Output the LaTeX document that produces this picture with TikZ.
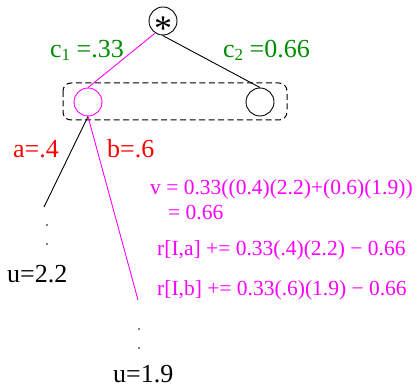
\documentclass[tikz,border=0pt]{standalone}
\usepackage{fontspec}
\setmainfont{Liberation Serif}
\definecolor{fgreen}{RGB}{0,140,0}
\definecolor{fmag}{RGB}{255,0,255}
\definecolor{fred}{RGB}{255,0,0}
\tikzset{
  circ/.style={draw,circle,minimum size=28pt,inner sep=0pt,line width=0.9pt},
  lbl/.style={inner sep=0pt,anchor=base west,font=\fontsize{26}{30}\selectfont},
  eq/.style={inner sep=0pt,anchor=base west,text=fmag,font=\fontsize{21.5}{25}\selectfont},
  edge/.style={line width=0.9pt}
}
\begin{document}
\begin{tikzpicture}[x=1pt,y=-1pt]
\useasboundingbox (0,0) rectangle (420,387);
% nodes
\node[circ] (star) at (163,21) {};
\node[inner sep=0pt,font=\fontsize{36}{40}\selectfont] (stx) at (163,28.5) {*};
\node[circ,draw=fmag] (L) at (88,102) {};
\node[circ] (R) at (260,102) {};
\draw[line width=1pt,black,rounded corners=8pt,dash pattern=on 6pt off 3.5pt] (63,83) rectangle (287,120);
% edges top
\draw[edge,fmag] (star.237) -- (L.north);
\draw[edge] (star.268) -- (R.north);
% labels
\node[lbl,text=fgreen] (c1) at (50,58) {c\raisebox{-0.25ex}{\fontsize{17}{20}\selectfont 1} =.33};
\node[lbl,text=fgreen] (c2) at (223,58) {c\raisebox{-0.25ex}{\fontsize{17}{20}\selectfont 2} =0.66};
\node[lbl,text=fred] (a) at (13,158) {a=.4};
\node[lbl,text=fred] (b) at (107,158) {b=.6};
% lower edges
\coordinate (ea) at (44,207);
\coordinate (eb) at (138,300);
\draw[edge] (L.south) -- (ea);
\draw[edge,fmag] (L.south) -- (eb);
% dots
\fill (47,225) circle (0.9pt);
\fill (47,244) circle (0.9pt);
\fill (139,329) circle (0.9pt);
\fill (139,348) circle (0.9pt);
% leaves
\node[lbl] (u1) at (7,283) {u=2.2};
\node[lbl] (u2) at (113,382) {u=1.9};
% equations
\node[eq] (v1) at (150,195) {v = 0.33((0.4)(2.2)+(0.6)(1.9))};
\node[eq] (v2) at (168,220) {= 0.66};
\node[eq] (ra) at (157,256) {r[I,a] += 0.33(.4)(2.2) − 0.66};
\node[eq] (rb) at (157,295) {r[I,b] += 0.33(.6)(1.9) − 0.66};
\end{tikzpicture}
\end{document}
